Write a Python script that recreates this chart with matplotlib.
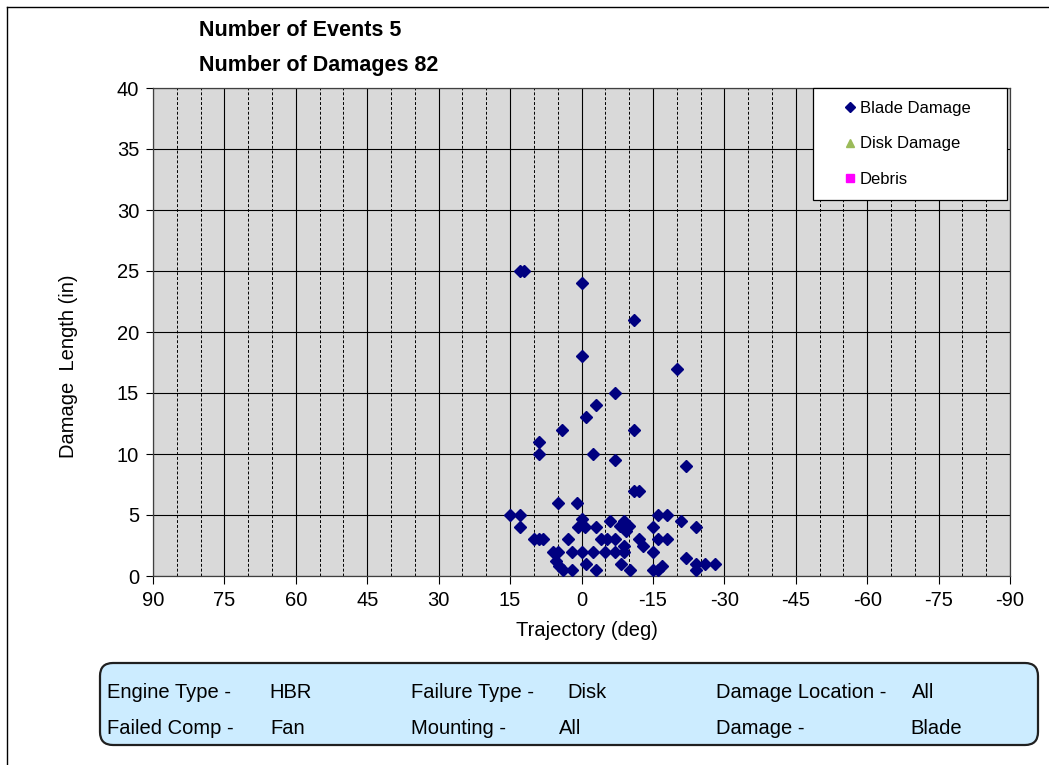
import matplotlib.pyplot as plt
from matplotlib.patches import FancyBboxPatch
from matplotlib.lines import Line2D
from matplotlib.ticker import MultipleLocator

plt.rcParams['font.family'] = ['Liberation Sans', 'DejaVu Sans']

# blade damage points: trajectory (deg), damage length (in)
blade_traj = [13, 12, 0, -11, 0, -20, -7, -3, -1, 4, -11, 9, 9, -2.5, -7,
              -22, -11, -12, 5, 1, 15, 13, 13, 10, 9, 8, 6, 5, 5.3, 4.7,
              3.8, 2, 2.8, 2, 0, 0, 0.7, -0.7, -1, -2.5, -3, -3, -4, -5,
              -6, -5.4, -7, -7, -8.2, -8.9, -8.1, -10, -9.3, -8.9, -8.9, -10.2,
              -12, -13, -15, -15, -15, -16, -17, -16, -18, -16, -18, -21,
              -24, -22, -24, -24, -26, -28]
blade_len = [25, 25, 24, 21, 18, 17, 15, 14, 13, 12, 12, 11, 10, 10, 9.5,
             9, 7, 7, 6, 6, 5, 5, 4, 3, 3, 3, 2, 2, 1.2, 0.8,
             0.5, 0.5, 3, 2, 2, 4.7, 4, 4, 1, 2, 4, 0.5, 3, 2,
             4.5, 3, 3, 2, 1, 4.5, 4.1, 4.1, 3.7, 2.5, 2, 0.5,
             3, 2.5, 4, 2, 0.5, 0.5, 0.8, 5, 5, 3, 3, 4.5,
             4, 1.5, 1, 0.5, 1, 1]
disk_traj, disk_len = [], []
debris_traj, debris_len = [], []

x_ticks = [90, 75, 60, 45, 30, 15, 0, -15, -30, -45, -60, -75, -90]

info_rows = [
    [("Engine Type -", 107), ("HBR", 269), ("Failure Type -", 411),
     ("Disk", 567), ("Damage Location -", 716), ("All", 912)],
    [("Failed Comp -", 107), ("Fan", 270), ("Mounting -", 411),
     ("All", 559), ("Damage -", 716), ("Blade", 910)],
]

W, H = 1049, 765
fig = plt.figure(figsize=(W / 100, H / 100), dpi=100)
ax = fig.add_axes([153 / W, 1 - 576 / H, (1010 - 153) / W, (576 - 88) / H])
ax.set_facecolor('#D9D9D9')

ax.plot(blade_traj, blade_len, 'D', color='#000080', markersize=6.6,
        linestyle='none', label='Blade Damage', zorder=3)
ax.plot(disk_traj, disk_len, '^', color='#9BBB59', markersize=8,
        linestyle='none', label='Disk Damage')
ax.plot(debris_traj, debris_len, 's', color='#FF00FF', markersize=7,
        linestyle='none', label='Debris')

ax.set_xlim(90, -90)
ax.set_ylim(0, 40)
ax.set_xticks(x_ticks)
ax.set_xticklabels([str(t) for t in x_ticks])
ax.xaxis.set_minor_locator(MultipleLocator(5))
ax.yaxis.set_major_locator(MultipleLocator(5))
ax.grid(which='major', color='black', linewidth=0.8, linestyle='-')
ax.grid(which='minor', axis='x', color='black', linewidth=0.7,
        linestyle=(0, (3, 2)))
ax.set_axisbelow(True)
ax.tick_params(axis='x', which='major', length=5.8, width=0.8, pad=5,
               labelsize=14.5)
ax.tick_params(axis='y', which='major', length=5, width=0.8, pad=5,
               labelsize=14.5)
ax.tick_params(which='minor', length=0)
for s in ax.spines.values():
    s.set_color('#404040')
    s.set_linewidth(0.9)

# legend box spans pixels x 813-1007, y 88-204
lx0, lx1, ly1 = 813, 1007, 204
leg = ax.legend(loc='upper left',
                bbox_to_anchor=((lx0 - 153) / 857, (576 - ly1) / 488,
                                (lx1 - lx0) / 857, (ly1 - 88) / 488),
                mode='expand', borderaxespad=0, fontsize=12,
                handlelength=2.93, handletextpad=-0.87, borderpad=0.75,
                labelspacing=1.25, markerscale=0.75, fancybox=False,
                framealpha=1)
leg.get_frame().set_edgecolor('black')
leg.get_frame().set_linewidth(0.9)

# titles and axis labels in pixel positions
def px(x, y):
    return x / W, 1 - y / H

fig.text(*px(199, 31), 'Number of Events 5', fontsize=15.5,
         fontweight='bold', va='center', ha='left')
fig.text(*px(199, 66), 'Number of Damages 82', fontsize=15.5,
         fontweight='bold', va='center', ha='left')
fig.text(*px(68, 366), 'Damage  Length (in)', fontsize=14.5,
         rotation=90, va='center', ha='center')
fig.text(*px(587, 631), 'Trajectory (deg)', fontsize=14.5,
         va='center', ha='center')

# outer frame (top and left edges visible)
fig.add_artist(Line2D([7 / W, 1], [1 - 7 / H, 1 - 7 / H],
                      transform=fig.transFigure, color='black', lw=1))
fig.add_artist(Line2D([7 / W, 7 / W], [0, 1 - 7 / H],
                      transform=fig.transFigure, color='black', lw=1))

# info box at the bottom
box = FancyBboxPatch((100 / 100, (H - 745) / 100), 938 / 100, 82 / 100,
                     boxstyle='round,pad=0,rounding_size=0.13',
                     transform=fig.dpi_scale_trans, facecolor='#CCECFF',
                     edgecolor='#202020', linewidth=1.6)
fig.add_artist(box)
for row, y in zip(info_rows, [693, 729]):
    for label, x in row:
        fig.text(*px(x, y), label, fontsize=14.5, va='center', ha='left')

plt.savefig('out.png', dpi=100, facecolor='white')
